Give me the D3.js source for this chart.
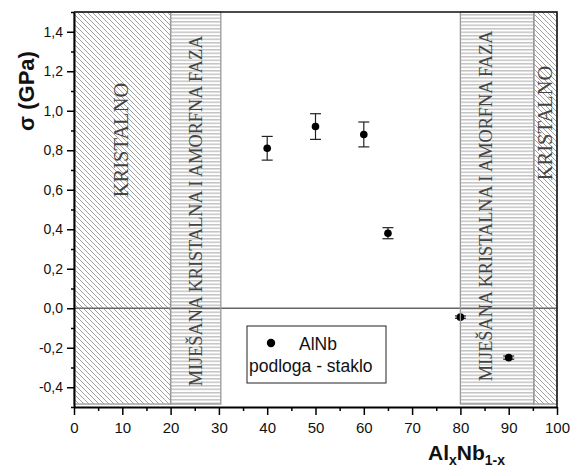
<!DOCTYPE html>
<html>
<head>
<meta charset="utf-8">
<script src="https://cdn.jsdelivr.net/npm/d3@7"></script>
<style>
  html, body { margin: 0; padding: 0; background: #fff; }
  svg { display: block; }
</style>
</head>
<body>
<svg id="chart" width="572" height="468"></svg>
<script>
// Residual stress of AlNb films on glass vs. Al content
const composition = [40, 50, 60, 65, 80, 90];
const stress      = [0.81, 0.92, 0.88, 0.38, -0.045, -0.25];
const stressErr   = [0.06, 0.065, 0.063, 0.028, 0.006, 0.008];

// Phase zones along the composition axis
const zoneStart = [0, 20, 80, 95.2];
const zoneEnd   = [20, 30.4, 95.2, 100];
const zoneKind  = ["diag", "stripe", "stripe", "diag"];
const zoneLabel = ["KRISTALNO", "MIJEŠANA KRISTALNA I AMORFNA FAZA",
                   "MIJEŠANA KRISTALNA I AMORFNA FAZA", "KRISTALNO"];

const xTicks = [0, 10, 20, 30, 40, 50, 60, 70, 80, 90, 100];
const xMinorTicks = [5, 15, 25, 35, 45, 55, 65, 75, 85, 95];
const yTicks = [-0.4, -0.2, 0.0, 0.2, 0.4, 0.6, 0.8, 1.0, 1.2, 1.4];
const yMinorTicks = [-0.5, -0.3, -0.1, 0.1, 0.3, 0.5, 0.7, 0.9, 1.1, 1.3, 1.5];

const legendLines = ["AlNb", "podloga - staklo"];

const svg = d3.select("#chart");
const sans = "'Liberation Sans', Arial, sans-serif";
const serif = "'Liberation Serif', 'Times New Roman', serif";

const x = d3.scaleLinear().domain([0, 100]).range([74, 557]);
const y = d3.scaleLinear().domain([-0.5, 1.5]).range([407, 12]);

const fmt = v => (v < -1e-9 ? "-" : "") + Math.abs(v).toFixed(1).replace(".", ",");

// Fill patterns
const defs = svg.append("defs");
const diag = defs.append("pattern").attr("id", "diag")
  .attr("patternUnits", "userSpaceOnUse").attr("width", 5).attr("height", 5);
diag.append("rect").attr("width", 5).attr("height", 5).attr("fill", "#fff");
diag.append("path").attr("d", "M0,0 L5,5 M-1,4 L1,6 M4,-1 L6,1")
  .attr("stroke", "#777").attr("stroke-width", 0.7);

const stripe = defs.append("pattern").attr("id", "stripe")
  .attr("patternUnits", "userSpaceOnUse").attr("width", 4).attr("height", 3.5);
stripe.append("rect").attr("width", 4).attr("height", 3.5).attr("fill", "#fff");
stripe.append("rect").attr("y", 0).attr("width", 4).attr("height", 1.5).attr("fill", "#c4c4c4");

// Zones
const zones = zoneStart.map((s, i) => ({ s, e: zoneEnd[i], kind: zoneKind[i], label: zoneLabel[i] }));
const zoneTop = 1.5, zoneBottom = -0.485;

svg.append("g").selectAll("rect").data(zones).join("rect")
  .attr("x", d => x(d.s)).attr("width", d => x(d.e) - x(d.s))
  .attr("y", y(zoneTop)).attr("height", y(zoneBottom) - y(zoneTop))
  .attr("fill", d => `url(#${d.kind})`);

// Zone captions, rotated
const labelY = [140, 211, 206, 123];
const labelDx = [6, 6, -5, 7];
const labelSize = [20.5, 18.3, 18.3, 20.5];
svg.append("g").selectAll("text").data(zones).join("text")
  .attr("transform", (d, i) => `translate(${(x(d.s) + x(d.e)) / 2 + labelDx[i]},${labelY[i]}) rotate(-90)`)
  .attr("text-anchor", "middle")
  .attr("font-family", serif).attr("font-size", (d, i) => labelSize[i])
  .attr("fill", "#444")
  .text(d => d.label);

// Zero reference line
svg.append("line")
  .attr("x1", x(0)).attr("x2", x(100)).attr("y1", y(0)).attr("y2", y(0))
  .attr("stroke", "#666").attr("stroke-width", 1.5);

// Error bars and points
const pts = composition.map((c, i) => ({ c, v: stress[i], e: stressErr[i] }));
const eb = svg.append("g").attr("stroke", "#222").attr("stroke-width", 1.2);
eb.selectAll("line.v").data(pts).join("line").attr("class", "v")
  .attr("x1", d => x(d.c)).attr("x2", d => x(d.c))
  .attr("y1", d => y(d.v + d.e)).attr("y2", d => y(d.v - d.e));
eb.selectAll("line.t").data(pts).join("line").attr("class", "t")
  .attr("x1", d => x(d.c) - 5.5).attr("x2", d => x(d.c) + 5.5)
  .attr("y1", d => y(d.v + d.e)).attr("y2", d => y(d.v + d.e));
eb.selectAll("line.b").data(pts).join("line").attr("class", "b")
  .attr("x1", d => x(d.c) - 5.5).attr("x2", d => x(d.c) + 5.5)
  .attr("y1", d => y(d.v - d.e)).attr("y2", d => y(d.v - d.e));
svg.append("g").selectAll("circle").data(pts).join("circle")
  .attr("cx", d => x(d.c)).attr("cy", d => y(d.v)).attr("r", 3.8)
  .attr("fill", "#000");

// Zone outlines
svg.append("g").selectAll("rect").data(zones).join("rect")
  .attr("x", d => x(d.s)).attr("width", d => x(d.e) - x(d.s))
  .attr("y", y(zoneTop)).attr("height", y(zoneBottom) - y(zoneTop))
  .attr("fill", "none").attr("stroke", "#999").attr("stroke-width", 1.3);

// Frame: top and right
svg.append("path")
  .attr("d", `M${x(0)},${y(1.5)} H${x(100)} V${y(-0.5)}`)
  .attr("fill", "none").attr("stroke", "#111").attr("stroke-width", 1.5);

// Axes
const xAxis = svg.append("g").attr("transform", `translate(0,${y(-0.5)})`)
  .call(d3.axisBottom(x).tickValues(xTicks).tickFormat(d3.format("d"))
    .tickSize(8).tickPadding(7).tickSizeOuter(0));
svg.append("g").attr("transform", `translate(0,${y(-0.5)})`)
  .call(d3.axisBottom(x).tickValues(xMinorTicks).tickFormat("").tickSize(4).tickSizeOuter(0))
  .select(".domain").remove();

const yAxis = svg.append("g").attr("transform", `translate(${x(0)},0)`)
  .call(d3.axisLeft(y).tickValues(yTicks).tickFormat(fmt)
    .tickSize(7).tickPadding(4).tickSizeOuter(0));
svg.append("g").attr("transform", `translate(${x(0)},0)`)
  .call(d3.axisLeft(y).tickValues(yMinorTicks).tickFormat("").tickSize(3).tickSizeOuter(0))
  .select(".domain").remove();

[xAxis, yAxis].forEach(g => {
  g.select(".domain").attr("stroke", "#000").attr("stroke-width", 2);
  g.selectAll(".tick text").attr("fill", "#111").attr("font-family", sans);
});
xAxis.selectAll(".tick text").attr("font-size", 15);
yAxis.selectAll(".tick text").attr("font-size", 14);
svg.selectAll(".tick line").attr("stroke", "#000").attr("stroke-width", 1.5);

// Axis titles
svg.append("text")
  .attr("transform", "translate(34,91) rotate(-90)")
  .attr("text-anchor", "middle")
  .attr("font-family", sans).attr("font-weight", "bold").attr("font-size", 22)
  .attr("fill", "#111")
  .text("σ (GPa)");

const xt = svg.append("text")
  .attr("x", 428).attr("y", 460)
  .attr("font-family", sans).attr("font-weight", "bold").attr("font-size", 21)
  .attr("fill", "#111");
xt.append("tspan").text("Al");
xt.append("tspan").attr("font-size", 14).attr("dy", 5).text("x");
xt.append("tspan").attr("dy", -5).text("Nb");
xt.append("tspan").attr("font-size", 14).attr("dy", 5).text("1-x");

// Legend
const lg = svg.append("g");
lg.append("rect").attr("x", 247).attr("y", 326).attr("width", 139).attr("height", 57)
  .attr("fill", "#fff").attr("stroke", "#222").attr("stroke-width", 1);
lg.append("circle").attr("cx", 271).attr("cy", 343).attr("r", 4.2).attr("fill", "#000");
lg.append("text").attr("x", 299).attr("y", 350)
  .attr("font-family", sans).attr("font-size", 17.5).attr("fill", "#111").text(legendLines[0]);
lg.append("text").attr("x", 249).attr("y", 372)
  .attr("font-family", sans).attr("font-size", 17.5).attr("fill", "#111").text(legendLines[1]);
</script>
</body>
</html>
